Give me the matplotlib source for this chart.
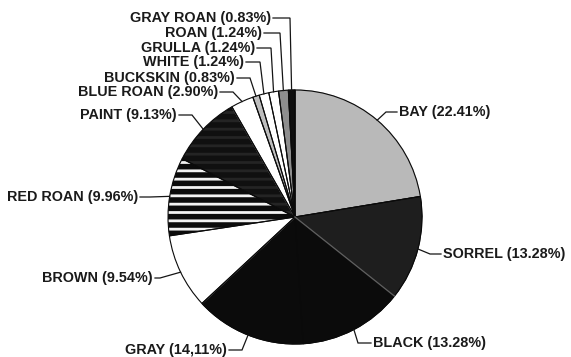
import numpy as np
import matplotlib
matplotlib.use("Agg")
import matplotlib.pyplot as plt
from matplotlib import rcParams

rcParams['font.family'] = ['Liberation Sans', 'DejaVu Sans']
rcParams['hatch.linewidth'] = 2.0

# 毛色の割合(%)
colors_name = ["BAY", "SORREL", "BLACK", "GRAY", "BROWN", "RED ROAN", "PAINT",
               "BLUE ROAN", "BUCKSKIN", "WHITE", "GRULLA", "ROAN", "GRAY ROAN"]
shares = [22.41, 13.28, 13.28, 14.11, 9.54, 9.96, 9.13,
          2.90, 0.83, 1.24, 1.24, 1.24, 0.83]
share_labels = ["22.41%", "13.28%", "13.28%", "14,11%", "9.54%", "9.96%", "9.13%",
                "2.90%", "0.83%", "1.24%", "1.24%", "1.24%", "0.83%"]

# 塗りとハッチ
fills = ['#b9b9b9', '#1e1e1e', '#0b0b0b', '#0b0b0b', '#ffffff', '#0b0b0b', '#101010',
         '#ffffff', '#bdbdbd', '#ffffff', '#ffffff', '#8e8e8e', '#0e0e0e']
hatches = [None, None, None, None, None, '--', '--',
           None, None, None, None, None, None]
hatch_cols = ['#b9b9b9', '#1e1e1e', '#0b0b0b', '#0b0b0b', '#ffffff', '#f2f2f2', '#242424',
              '#ffffff', '#bdbdbd', '#ffffff', '#ffffff', '#8e8e8e', '#0e0e0e']

W, H = 571, 357
cx, cy, R = 295, 217, 127

# ラベル位置 (x, y, 揃え, 引出線の折れ点x)
label_pos = [(399, 112, 'left', 386), (443, 254, 'left', 430), (373, 343, 'left', 358),
             (227, 350, 'right', 242), (153, 278, 'right', 160), (138, 197, 'right', 150),
             (177, 115, 'right', 192), (218, 92, 'right', 233), (235, 78, 'right', 250),
             (244, 62, 'right', 260), (255, 48, 'right', 271), (262, 33, 'right', 280),
             (271, 18, 'right', 290)]

fig = plt.figure(figsize=(W / 100, H / 100), dpi=100)
fig.patch.set_facecolor('white')
ax = fig.add_axes([0, 0, 1, 1])

wedges, _ = ax.pie(shares, startangle=90, counterclock=False, radius=R,
                   center=(cx, H - cy), colors=fills,
                   wedgeprops=dict(linewidth=0))
for w, h, hc in zip(wedges, hatches, hatch_cols):
    w.set_edgecolor(hc)
    if h:
        w.set_hatch(h)
    else:
        w.set_linewidth(0.8)

# 輪郭
outl, _ = ax.pie(shares, startangle=90, counterclock=False, radius=R,
                 center=(cx, H - cy), colors=['none'] * len(shares),
                 wedgeprops=dict(linewidth=0.8, edgecolor='#0a0a0a', fill=False))

# SORREL/BLACK の境界線
cum = np.cumsum(shares)
a = np.deg2rad(90 - cum[1] / 100 * 360)
ax.plot([cx, cx + R * np.cos(a)], [H - cy, H - cy + R * np.sin(a)], color='#5e5e5e', lw=1.0)

# 引出線とラベル
mids = 90 - (cum - np.array(shares) / 2) / 100 * 360
for name, lab, m, (tx, ty, ha, kx) in zip(colors_name, share_labels, mids, label_pos):
    ex = cx + R * np.cos(np.deg2rad(m))
    ey = (H - cy) + R * np.sin(np.deg2rad(m))
    sx = tx - 2 if ha == 'left' else tx + 2
    ax.plot([sx, kx, ex], [H - ty, H - ty, ey], color='#151515', lw=0.9,
            solid_joinstyle='miter')
    ax.text(tx, H - ty, f"{name} ({lab})", ha=ha, va='center', fontsize=10.4,
            fontweight='bold', color='#1a1a1a')

ax.set_xlim(0, W)
ax.set_ylim(0, H)
ax.set_aspect('auto')
ax.axis('off')

plt.savefig("out.png", dpi=100)
